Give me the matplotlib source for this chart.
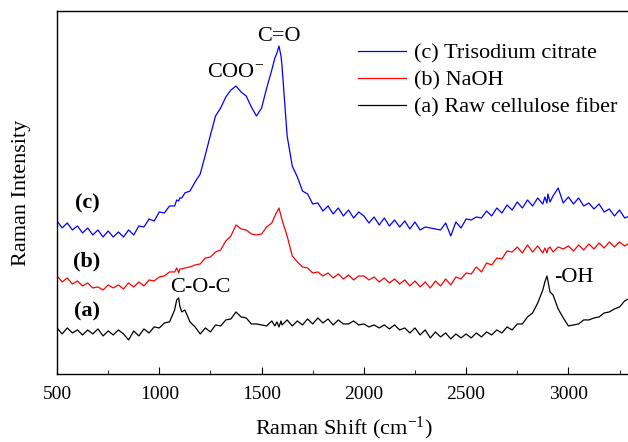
import matplotlib
matplotlib.use("Agg")
import matplotlib.pyplot as plt
from matplotlib.ticker import MultipleLocator

# Raman shift grid (cm^-1), denser around sharp peaks
shift = [
    500, 525, 550, 575, 600, 625, 650, 675, 700, 725, 750, 775, 800, 825, 850, 875, 900, 925, 950, 975,
    1000, 1025, 1050, 1075, 1085, 1095, 1100, 1110, 1125, 1150, 1175, 1200, 1225, 1250, 1275, 1300,
    1325, 1350, 1375, 1400, 1425, 1450, 1475,
    1500, 1525, 1550, 1565, 1575, 1585, 1595, 1600, 1625, 1650, 1675, 1700, 1725, 1750, 1775, 1800,
    1825, 1850, 1875, 1900, 1925, 1950, 1975,
    2000, 2025, 2050, 2075, 2100, 2125, 2150, 2175, 2200, 2225, 2250, 2275, 2300, 2325, 2350, 2375,
    2400, 2425, 2450, 2475,
    2500, 2525, 2550, 2575, 2600, 2625, 2650, 2675, 2700, 2725, 2750, 2775, 2800, 2825, 2850, 2875,
    2885, 2895, 2900, 2910, 2925, 2950, 2975,
    3000, 3025, 3050, 3075, 3100, 3125, 3150, 3175, 3200, 3225, 3250, 3275, 3300,
]

# (a) Raw cellulose fiber (offset intensity, a.u.)
raw_fiber = [
    46, 40, 46, 41, 44, 39, 44, 40, 45, 38, 43, 39, 44, 40, 34, 43, 38, 45, 41, 47,
    46, 51, 52, 64, 74, 76, 68, 62, 64, 52, 47, 40, 46, 42, 49, 48,
    54, 55, 62, 57, 56, 50, 50,
    49, 48, 53, 48, 52, 47, 53, 49, 54, 48, 53, 49, 55, 50, 56, 51,
    55, 49, 54, 50, 50, 53, 49,
    50, 47, 49, 46, 49, 45, 49, 44, 46, 41, 46, 39, 44, 36, 42, 37,
    41, 35, 40, 36,
    40, 36, 41, 37, 42, 39, 44, 41, 47, 44, 50, 50, 57, 61, 71, 84,
    92, 98, 93, 82, 79, 65, 56,
    48, 49, 50, 54, 54, 56, 57, 61, 62, 65, 67, 73, 76,
]

# (b) NaOH treated
naoh = [
    98, 92, 96, 90, 93, 88, 91, 86, 87, 84, 89, 86, 89, 85, 91, 87, 92, 88, 94, 93,
    97, 98, 102, 102, 106, 101, 105, 105, 106, 107, 109, 110, 116, 117, 122, 124,
    133, 138, 149, 145, 144, 140, 139,
    140, 147, 151, 158, 162, 166, 158, 154, 138, 118, 112, 107, 106, 101, 102, 98,
    101, 96, 100, 95, 99, 94, 98,
    98, 94, 97, 92, 96, 91, 95, 90, 94, 88, 93, 87, 92, 86, 93, 88,
    95, 89, 97, 95,
    101, 100, 107, 102, 111, 109, 116, 115, 123, 122, 127, 121, 129, 122, 128, 121,
    126, 121, 125, 127, 122, 127, 125,
    128, 123, 129, 124, 130, 125, 131, 126, 132, 127, 132, 128, 131,
]

# (c) Trisodium citrate treated
citrate = [
    153, 146, 151, 144, 148, 141, 146, 139, 144, 137, 143, 137, 142, 137, 144, 139, 148, 147, 155, 153,
    162, 161, 168, 168, 174, 173, 176, 176, 181, 183, 192, 200, 219, 239, 258, 266,
    277, 284, 288, 282, 278, 267, 258,
    266, 286, 304, 316, 321, 328, 318, 308, 238, 208, 197, 183, 180, 170, 171, 163,
    168, 160, 166, 158, 164, 156, 162,
    158, 151, 157, 149, 156, 148, 154, 147, 153, 145, 152, 144, 147, 146, 145, 144,
    151, 138, 152, 146,
    155, 154, 157, 156, 163, 158, 166, 161, 169, 164, 172, 166, 174, 168, 176, 170,
    177, 171, 180, 172, 178, 186, 171,
    177, 170, 176, 168, 171, 165, 170, 162, 165, 158, 164, 156, 158,
]

plt.rcParams["font.family"] = ["Liberation Serif", "DejaVu Serif"]
plt.rcParams["mathtext.fontset"] = "custom"
plt.rcParams["mathtext.rm"] = "Liberation Serif"
plt.rcParams["mathtext.it"] = "Liberation Serif:italic"

FS = 16

fig = plt.figure(figsize=(6.28, 4.42), dpi=100)
ax = fig.add_axes([0.0908, 0.154, 0.912, 0.821])

ax.plot(shift, citrate, color="#0000ff", lw=0.9, label="(c) Trisodium citrate")
ax.plot(shift, naoh, color="#ff0000", lw=0.9, label="(b) NaOH")
ax.plot(shift, raw_fiber, color="black", lw=0.9, label="(a) Raw cellulose fiber")

ax.set_xlim(500, 3300)
ax.set_ylim(0, 363)
ax.xaxis.set_major_locator(MultipleLocator(500))
ax.xaxis.set_minor_locator(MultipleLocator(250))
ax.tick_params(axis="x", which="both", direction="in", labelsize=14, pad=9)
ax.tick_params(axis="x", which="major", length=5)
ax.tick_params(axis="x", which="minor", length=3)
ax.set_yticks([])
for s in ax.spines.values():
    s.set_linewidth(1.0)

ax.set_xlabel("Raman Shift (cm$^{-1}$)", fontsize=FS, labelpad=8)
ax.set_ylabel("Raman Intensity", fontsize=FS, labelpad=19)

# peak assignments
ax.text(1583, 338, "C=O", fontsize=FS, ha="center", va="center")
ax.text(1372, 302, "COO$^{-}$", fontsize=FS, ha="center", va="center")
ax.text(1201, 86, "C-O-C", fontsize=FS, ha="center", va="center")
ax.text(2931, 96, "-OH", fontsize=FS, ha="left", va="center")

# curve tags
ax.text(647, 171, "(c)", fontsize=FS, fontweight="bold", ha="center", va="center")
ax.text(647, 112, "(b)", fontsize=FS, fontweight="bold", ha="center", va="center")
ax.text(647, 62, "(a)", fontsize=FS, fontweight="bold", ha="center", va="center")

ax.legend(loc="upper left", bbox_to_anchor=(0.525, 0.911), frameon=False,
          fontsize=FS, handlelength=2.16, handletextpad=0.36, labelspacing=0.29,
          borderpad=0, borderaxespad=0)

fig.savefig("out.png", dpi=100)
